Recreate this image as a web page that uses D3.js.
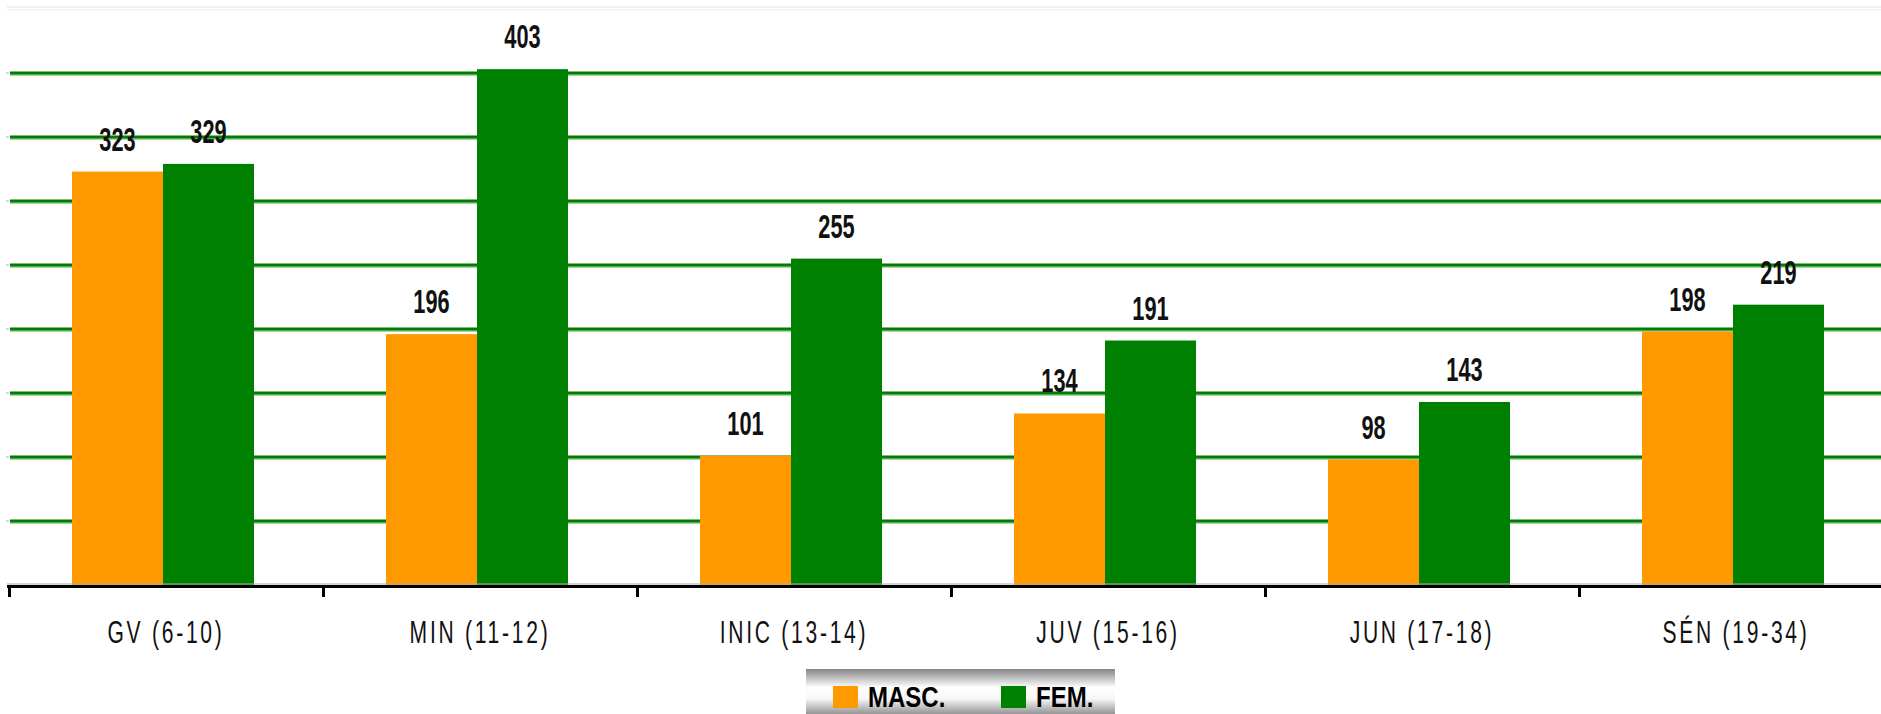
<!DOCTYPE html>
<html>
<head>
<meta charset="utf-8">
<script src="https://cdn.jsdelivr.net/npm/d3@7"></script>
<style>
html,body{margin:0;padding:0;background:#fff;}
svg{display:block;}
</style>
</head>
<body>
<svg id="chart" width="1881" height="714"></svg>
<script>
const categories = ["GV (6-10)", "MIN (11-12)", "INIC (13-14)", "JUV (15-16)", "JUN (17-18)", "SÉN (19-34)"];
const seriesNames = ["MASC.", "FEM."];
const masc = [323, 196, 101, 134, 98, 198];
const fem = [329, 403, 255, 191, 143, 219];
const yTicks = [0, 50, 100, 150, 200, 250, 300, 350, 400, 450];
const colors = ["#FF9900", "#008000"];

const svg = d3.select("#chart");
const FONT = "'Liberation Sans','Arial',sans-serif";

const x0 = d3.scaleBand().domain(categories).range([9, 1893]).padding(0);
const x1 = d3.scaleBand().domain(seriesNames).range([63, 245]).padding(0);
const y = d3.scaleLinear().domain([0, 450]).range([585, 9]);

// gridlines
const grid = svg.append("g");
yTicks.filter(t => t > 0 && t < 450).forEach(t => {
  grid.append("line").attr("x1", 10).attr("x2", 1881)
    .attr("y1", y(t) + 2).attr("y2", y(t) + 2)
    .attr("stroke", "#8cc58c").attr("stroke-width", 1.5);
  grid.append("line").attr("x1", 10).attr("x2", 1881)
    .attr("y1", y(t)).attr("y2", y(t))
    .attr("stroke", "#007d00").attr("stroke-width", 3);
  grid.append("line").attr("x1", 6).attr("x2", 9)
    .attr("y1", y(t)).attr("y2", y(t))
    .attr("stroke", "#d8d8d8").attr("stroke-width", 2);
});
// top faded line
grid.append("line").attr("x1", 7).attr("x2", 1881)
  .attr("y1", y(450) - 2).attr("y2", y(450) - 2)
  .attr("stroke", "#d7e8d7").attr("stroke-width", 1);
grid.append("line").attr("x1", 7).attr("x2", 1881)
  .attr("y1", y(450) + 1).attr("y2", y(450) + 1)
  .attr("stroke", "#e3f0e3").attr("stroke-width", 1);

// bars
const data = categories.map((c, i) => ({cat: c, vals: [masc[i], fem[i]]}));
const groups = svg.append("g").selectAll("g").data(data).join("g")
  .attr("transform", d => `translate(${x0(d.cat)},0)`);
groups.selectAll("rect").data(d => d.vals.map((v, j) => ({name: seriesNames[j], v, j})))
  .join("rect")
  .attr("x", d => x1(d.name))
  .attr("width", x1.bandwidth())
  .attr("y", d => y(d.v))
  .attr("height", d => y(0) - y(d.v))
  .attr("fill", d => colors[d.j]);

groups.selectAll("text.val").data(d => d.vals.map((v, j) => ({name: seriesNames[j], v, j})))
  .join("text").attr("class", "val")
  .attr("transform", d => `translate(${x1(d.name) + x1.bandwidth() / 2},${y(d.v) - 21}) scale(0.64,1)`)
  .attr("text-anchor", "middle")
  .attr("font-family", FONT).attr("font-weight", "bold").attr("font-size", 34)
  .attr("fill", "#111")
  .text(d => d.v);

// x axis
const xAxis = svg.append("g");
xAxis.append("line").attr("x1", 7).attr("x2", 1881).attr("y1", 584).attr("y2", 584)
  .attr("stroke", "#aaa").attr("stroke-width", 1);
xAxis.append("line").attr("x1", 7).attr("x2", 1881).attr("y1", 586.5).attr("y2", 586.5)
  .attr("stroke", "#000").attr("stroke-width", 3);
categories.forEach(c => {
  const xx = x0(c);
  xAxis.append("line").attr("x1", xx + 0.5).attr("x2", xx + 0.5).attr("y1", 585).attr("y2", 597)
    .attr("stroke", "#000").attr("stroke-width", 3);
  xAxis.append("text")
    .attr("transform", `translate(${xx + x0.bandwidth() / 2},643) scale(0.68,1)`)
    .attr("text-anchor", "middle")
    .attr("font-family", FONT).attr("font-size", 31).attr("letter-spacing", 4)
    .attr("fill", "#111").text(c);
});

// legend
const defs = svg.append("defs");
const grad = defs.append("linearGradient").attr("id", "lg").attr("x1", 0).attr("y1", 0).attr("x2", 0).attr("y2", 1);
grad.append("stop").attr("offset", "0%").attr("stop-color", "#858585");
grad.append("stop").attr("offset", "40%").attr("stop-color", "#ffffff");
grad.append("stop").attr("offset", "65%").attr("stop-color", "#f6f6f6");
grad.append("stop").attr("offset", "100%").attr("stop-color", "#8e8e8e");
const lg = svg.append("g");
lg.append("rect").attr("x", 806).attr("y", 669).attr("width", 309).attr("height", 46).attr("fill", "url(#lg)");
const legX = [833, 1001];
seriesNames.forEach((n, i) => {
  lg.append("rect").attr("x", legX[i]).attr("y", 686).attr("width", 25).attr("height", 22).attr("fill", colors[i]);
  lg.append("text").attr("transform", `translate(${legX[i] + 35},707) scale(0.8,1)`)
    .attr("font-family", FONT).attr("font-weight", "bold").attr("font-size", 30)
    .attr("fill", "#000").text(n);
});
</script>
</body>
</html>
